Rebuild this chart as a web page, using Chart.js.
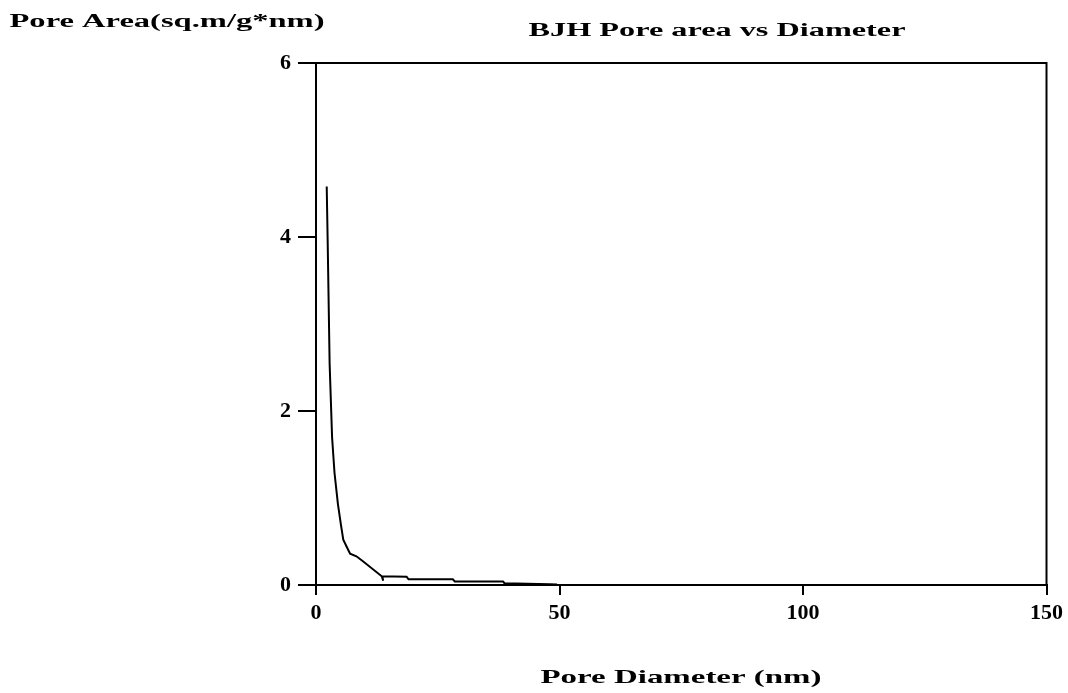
<!DOCTYPE html>
<html>
<head>
<meta charset="utf-8">
<script src="https://cdn.jsdelivr.net/npm/chart.js@4"></script>
<style>
  html, body { margin: 0; padding: 0; background: #fff; }
  #wrap { width: 1068px; height: 693px; }
</style>
</head>
<body>
<div id="wrap"><canvas id="chart" width="1068" height="693"></canvas></div>
<script>
// BJH pore area distribution
const diameters = [2.2, 2.4, 2.8, 3.3, 3.8, 4.5, 5.1, 5.6, 6.3, 7.0, 8.3, 9.7, 13.5, 13.8, 13.6, 18.6, 19.0, 28.1, 28.5, 38.4, 38.7, 48.0, 49.5];
const poreArea  = [4.58, 3.94, 2.54, 1.70, 1.29, 0.93, 0.70, 0.52, 0.44, 0.36, 0.33, 0.27, 0.10, 0.05, 0.10, 0.095, 0.065, 0.065, 0.04, 0.04, 0.02, 0.01, 0.005];
const xTicks = [0, 50, 100, 150];
const yTicks = [0, 2, 4, 6];

const titleText = 'BJH Pore area vs Diameter';
const yLabelText = 'Pore Area(sq.m/g*nm)';
const xLabelText = 'Pore Diameter (nm)';

const serif = '"Liberation Serif", "DejaVu Serif", serif';

// texto estirado horizontalmente como en la imagen original
function stretchedText(ctx, text, cx, cy, size, width) {
    ctx.save();
    ctx.font = 'bold ' + size + 'px ' + serif;
    ctx.fillStyle = '#000';
    ctx.textAlign = 'center';
    ctx.textBaseline = 'middle';
    const w = ctx.measureText(text).width;
    ctx.translate(cx, cy);
    ctx.scale(width / w, 1);
    ctx.fillText(text, 0, 0);
    ctx.restore();
}

const framePlugin = {
    id: 'frame',
    afterDraw(chart) {
        const ctx = chart.ctx;
        const a = chart.chartArea;
        ctx.save();
        ctx.strokeStyle = '#000';
        ctx.lineWidth = 2;
        ctx.strokeRect(a.left, a.top, a.right - a.left, a.bottom - a.top);
        ctx.restore();
        stretchedText(ctx, yLabelText, 167, 22, 18, 315);
        stretchedText(ctx, titleText, 717, 31, 18, 377);
        stretchedText(ctx, xLabelText, 681, 678, 19, 281);
    }
};

new Chart(document.getElementById('chart'), {
    type: 'line',
    data: {
        datasets: [{
            data: diameters.map((d, i) => ({ x: d, y: poreArea[i] })),
            borderColor: '#000',
            borderWidth: 2,
            pointRadius: 0,
            fill: false,
            tension: 0
        }]
    },
    options: {
        responsive: false,
        animation: false,
        layout: { padding: { left: 0, right: 20, top: 63, bottom: 0 } },
        plugins: {
            legend: { display: false },
            tooltip: { enabled: false }
        },
        scales: {
            x: {
                type: 'linear',
                min: 0,
                max: 150,
                afterBuildTicks: s => { s.ticks = xTicks.map(v => ({ value: v })); },
                afterFit: s => { s.height = 108; },
                grid: { drawOnChartArea: false, drawTicks: true, tickLength: 10, color: '#000', lineWidth: 2 },
                border: { color: '#000', width: 2 },
                ticks: {
                    color: '#000',
                    padding: 5,
                    font: { family: serif, size: 22, weight: 'bold' }
                }
            },
            y: {
                type: 'linear',
                min: 0,
                max: 6,
                afterBuildTicks: s => { s.ticks = yTicks.map(v => ({ value: v })); },
                afterFit: s => { s.width = 316; },
                grid: { drawOnChartArea: false, drawTicks: true, tickLength: 18, color: '#000', lineWidth: 2 },
                border: { color: '#000', width: 2 },
                ticks: {
                    color: '#000',
                    padding: 7,
                    font: { family: serif, size: 22, weight: 'bold' }
                }
            }
        }
    },
    plugins: [framePlugin]
});
</script>
</body>
</html>
